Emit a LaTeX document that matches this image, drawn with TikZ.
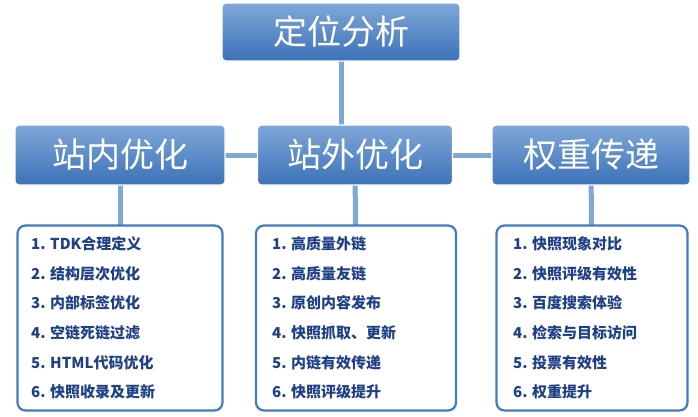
\documentclass[tikz,border=0pt]{standalone}
\usepackage{fontspec}
\setmainfont{Noto Sans CJK SC}
\definecolor{htop}{HTML}{7FA7D8}
\definecolor{hbot}{HTML}{3C72B8}
\definecolor{lnk}{HTML}{7FA8D6}
\definecolor{bord}{HTML}{3F7CC4}
\definecolor{itx}{HTML}{1F3F86}
\begin{document}
\begin{tikzpicture}[x=1pt,y=-1pt,
  head/.style={draw=white,line width=1.2pt,rounded corners=4pt,top color=htop,bottom color=hbot,text=white,font=\fontsize{34}{36}\selectfont,inner sep=0pt},
  listbox/.style={draw=bord,line width=2.2pt,rounded corners=8pt,fill=white},
  item/.style={anchor=west,text=itx,font=\bfseries\fontsize{15}{16}\selectfont,inner sep=0pt},
  link/.style={draw=lnk,line width=5pt}]
\useasboundingbox (0,0) rectangle (698,416);
\fill[white] (0,0) rectangle (698,416);
\coordinate (top) at (341,32);
\coordinate (ml) at (120,155); \coordinate (mm) at (355,155); \coordinate (mr) at (591,155);
\draw[link] (341,32) -- (341,155);
\draw[link] (ml) -- (mr);
\draw[link] (ml) -- (120,318);
\draw[link] (mm) -- (356,318);
\draw[link] (mr) -- (592,318);
\node[head,minimum width=238,minimum height=58] (t) at (341,32) {定位分析};
\node[head,minimum width=210,minimum height=60] (a) at (ml) {站内优化};
\node[head,minimum width=195,minimum height=60] (b) at (mm) {站外优化};
\node[head,minimum width=198,minimum height=60] (c) at (mr) {权重传递};
\node[listbox,minimum width=205,minimum height=185] (la) at (120,318) {};
\node[listbox,minimum width=200,minimum height=185] (lb) at (356,318) {};
\node[listbox,minimum width=191,minimum height=185] (lc) at (592,318) {};
\foreach \t [count=\i] in {1. TDK合理定义,2. 结构层次优化,3. 内部标签优化,4. 空链死链过滤,5. HTML代码优化,6. 快照收录及更新}
  \node[item] (a\i) at (31,214+29.7*\i) {\t};
\foreach \t [count=\i] in {1. 高质量外链,2. 高质量友链,3. 原创内容发布,4. 快照抓取、更新,5. 内链有效传递,6. 快照评级提升}
  \node[item] (b\i) at (272,214+29.7*\i) {\t};
\foreach \t [count=\i] in {1. 快照现象对比,2. 快照评级有效性,3. 百度搜索体验,4. 检索与目标访问,5. 投票有效性,6. 权重提升}
  \node[item] (c\i) at (513,214+29.7*\i) {\t};
\end{tikzpicture}
\end{document}
